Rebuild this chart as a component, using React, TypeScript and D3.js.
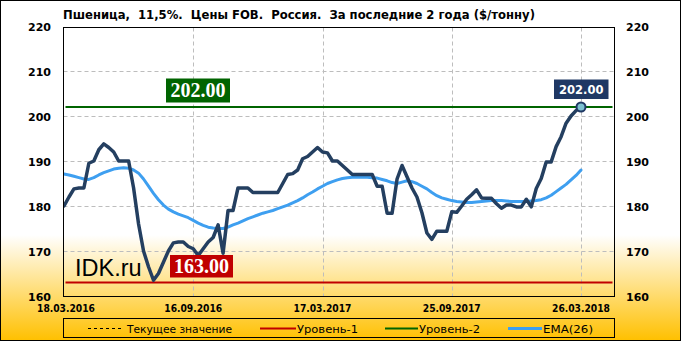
import React from "react";
import * as d3 from "d3";

const W = 681;
const H = 341;

const title = "Пшеница,  11,5%.  Цены FOB.  Россия.  За последние 2 года ($/тонну)";

// weekly prices ($/t)
const prices: number[] = [
  180, 182, 183.8, 184, 184, 189.5, 190, 192.5, 193.8, 193,
  192, 190, 190, 190, 184, 176, 170, 166.5, 163.5, 165,
  167.5, 170, 171.8, 172, 172, 171, 170.5, 169, 170.5, 172,
  173, 175.8, 169.5, 179, 179, 184, 184, 184, 183, 183,
  183, 183, 183, 183, 185, 187, 187.2, 188, 190.5, 191,
  192, 193, 192, 191.8, 190, 190, 189, 188, 187, 187,
  187, 187, 187, 184.4, 184.4, 178.4, 178.4, 186, 189, 186.5,
  184, 182, 178.5, 174, 172.6, 174.4, 174.4, 174.4, 178.7, 178.6,
  180, 181.5, 182.5, 183.6, 181.8, 181.7, 181.7, 180.5, 179.5, 180.2,
  180.2, 179.8, 179.8, 181.5, 179.8, 183.9, 186.1, 189.8, 189.8, 193.2,
  195.4, 198.4, 200, 201.2, 202,
];

// EMA(26)
const ema: number[] = [
  187.1, 186.9, 186.6, 186.3, 186.0, 185.9, 186.3, 186.9, 187.4, 187.8,
  188.2, 188.4, 188.5, 188.4, 188.0, 187.3, 186.0, 184.4, 182.8, 181.4,
  180.2, 179.3, 178.7, 178.2, 177.8, 177.4, 176.8, 176.2, 175.7, 175.3,
  175.1, 175.0, 175.0, 175.3, 175.8, 176.2, 176.7, 177.2, 177.6, 178.0,
  178.4, 178.7, 179.0, 179.4, 179.8, 180.2, 180.7, 181.2, 181.8, 182.5,
  183.1, 183.8, 184.4, 185.0, 185.4, 185.8, 186.1, 186.3, 186.4, 186.4,
  186.4, 186.4, 186.3, 186.2, 185.9, 185.6, 185.2, 185.0, 185.3, 185.6,
  185.4, 185.0, 184.4, 183.8, 183.0, 182.3, 181.8, 181.5, 181.2, 181.0,
  180.9, 180.8, 180.8, 180.9, 181.0, 181.1, 181.2, 181.2, 181.2, 181.1,
  181.0, 181.0, 181.0, 181.0, 181.1, 181.2, 181.4, 181.8, 182.4, 183.2,
  184.0, 184.8, 185.8, 186.8, 188.0,
];

const xTickIdx = [0, 26, 52, 78, 104];
const xTickLabels = ["18.03.2016", "16.09.2016", "17.03.2017", "25.09.2017", "26.03.2018"];
const yTicks = [160, 170, 180, 190, 200, 210, 220];

const level1 = 163;
const level2 = 202;
const current = 202;

const legendItems = ["Текущее значение", "Уровень-1", "Уровень-2", "EMA(26)"];

export default function App() {
  const pl = 63.5, pr = 614.5, pt = 27.5, pb = 296.5;
  const x = d3.scaleLinear().domain([0, prices.length - 1]).range([64, 581]);
  const y = d3.scaleLinear().domain([160, 220]).range([296, 26]);

  const line = d3.line<number>().x((_, i) => x(i)).y((d) => y(d));
  const lastX = x(prices.length - 1);
  const lastY = y(current);

  const sans = "'DejaVu Sans', Verdana, sans-serif";
  const serif = "'Liberation Serif', 'Times New Roman', serif";

  return (
    <svg width={W} height={H} style={{ position: "absolute", left: 0, top: 0 }} xmlns="http://www.w3.org/2000/svg">
      <defs>
        <linearGradient id="bg" x1="0" y1="0" x2="0" y2="1">
          <stop offset="0" stopColor="#ffffff" />
          <stop offset="0.69" stopColor="#ffffff" />
          <stop offset="1" stopColor="#ffc000" />
        </linearGradient>
        <clipPath id="plot">
          <rect x={pl} y={pt} width={pr - pl} height={pb - pt} />
        </clipPath>
      </defs>
      <rect x={0.5} y={0.5} width={W - 1} height={H - 1} fill="url(#bg)" stroke="#000" />

      {/* title */}
      <text x={63} y={19} fontFamily={sans} fontWeight="bold" fontSize={12} fill="#000" textLength={472} lengthAdjust="spacingAndGlyphs" style={{ whiteSpace: "pre" }}>
        {title}
      </text>

      {/* grid */}
      {yTicks.filter((t) => t > 160 && t < 220).map((t) => (
        <line key={"gy" + t} x1={pl} x2={pr} y1={Math.round(y(t)) + 0.5} y2={Math.round(y(t)) + 0.5} stroke="#bdbdbd" strokeDasharray="4,3" />
      ))}
      {xTickIdx.slice(1).map((i) => (
        <line key={"gx" + i} x1={Math.round(x(i)) + 0.5} x2={Math.round(x(i)) + 0.5} y1={pt} y2={pb} stroke="#bdbdbd" strokeDasharray="4,3" />
      ))}

      {/* level lines */}
      <line x1={pl + 2} x2={pr - 2} y1={y(level2)} y2={y(level2)} stroke="#006400" strokeWidth={2} />
      <line x1={pl + 2} x2={pr - 2} y1={y(level1)} y2={y(level1)} stroke="#c00000" strokeWidth={2} />

      {/* watermark */}
      <text x={75} y={276} fontFamily="'Liberation Sans', Arial, sans-serif" fontSize={23.5} fill="#000">IDK.ru</text>

      <g clipPath="url(#plot)">
        <path d={line(ema) || ""} fill="none" stroke="#3e9ff0" strokeWidth={3} strokeLinejoin="round" strokeLinecap="round" />
        <path d={line(prices) || ""} fill="none" stroke="#243f60" strokeWidth={3.5} strokeLinejoin="round" strokeLinecap="round" />
      </g>

      {/* level labels */}
      <rect x={166} y={78.5} width={64} height={24} fill="#006400" />
      <text x={198} y={97} textAnchor="middle" fontFamily={serif} fontWeight="bold" fontSize={20} fill="#fff">{level2.toFixed(2)}</text>
      <rect x={170} y={255} width={63} height={22.5} fill="#c00000" />
      <text x={201.5} y={273} textAnchor="middle" fontFamily={serif} fontWeight="bold" fontSize={20} fill="#fff">{level1.toFixed(2)}</text>

      {/* current value marker */}
      <circle cx={lastX} cy={lastY} r={4.5} fill="#7cc0d0" stroke="#1f3864" strokeWidth={2} />
      <rect x={554} y={79.5} width={54.5} height={19.5} fill="#1f3864" />
      <text x={581.3} y={93.8} textAnchor="middle" fontFamily={sans} fontWeight="bold" fontSize={11.5} fill="#fff">{current.toFixed(2)}</text>

      {/* plot border */}
      <rect x={pl} y={pt} width={pr - pl} height={pb - pt} fill="none" stroke="#000" strokeWidth={1} />

      {/* y labels */}
      {yTicks.map((t) => (
        <g key={"yl" + t}>
          <text x={51} y={y(t) + 1.5} textAnchor="end" dominantBaseline="middle" fontFamily={sans} fontWeight="bold" fontSize={11} fill="#000">{t}</text>
          <text x={626} y={y(t) + 1.5} textAnchor="start" dominantBaseline="middle" fontFamily={sans} fontWeight="bold" fontSize={11} fill="#000">{t}</text>
        </g>
      ))}

      {/* x labels */}
      {xTickIdx.map((i, k) => (
        <text key={"xl" + i} x={x(i) + (k === 0 ? 2 : 0)} y={312} textAnchor="middle" fontFamily={sans} fontWeight="bold" fontSize={10} fill="#000" textLength={58} lengthAdjust="spacingAndGlyphs">{xTickLabels[k]}</text>
      ))}

      {/* legend */}
      <rect x={63.5} y={318.5} width={551} height={19} fill="none" stroke="#000" />
      <line x1={88} x2={121} y1={328.5} y2={328.5} stroke="#000" strokeDasharray="3,3" />
      <text x={127} y={332.5} fontFamily={sans} fontSize={11} fill="#000" textLength={105} lengthAdjust="spacingAndGlyphs">{legendItems[0]}</text>
      <line x1={260} x2={296} y1={328.5} y2={328.5} stroke="#c00000" strokeWidth={2} />
      <text x={297} y={332.5} fontFamily={sans} fontSize={11} fill="#000" textLength={61} lengthAdjust="spacingAndGlyphs">{legendItems[1]}</text>
      <line x1={385} x2={418} y1={328.5} y2={328.5} stroke="#006400" strokeWidth={2} />
      <text x={419} y={332.5} fontFamily={sans} fontSize={11} fill="#000" textLength={61} lengthAdjust="spacingAndGlyphs">{legendItems[2]}</text>
      <line x1={508} x2={542} y1={328.5} y2={328.5} stroke="#3e9ff0" strokeWidth={3} />
      <text x={543} y={332.5} fontFamily={sans} fontSize={11} fill="#000" textLength={50} lengthAdjust="spacingAndGlyphs">{legendItems[3]}</text>
    </svg>
  );
}
